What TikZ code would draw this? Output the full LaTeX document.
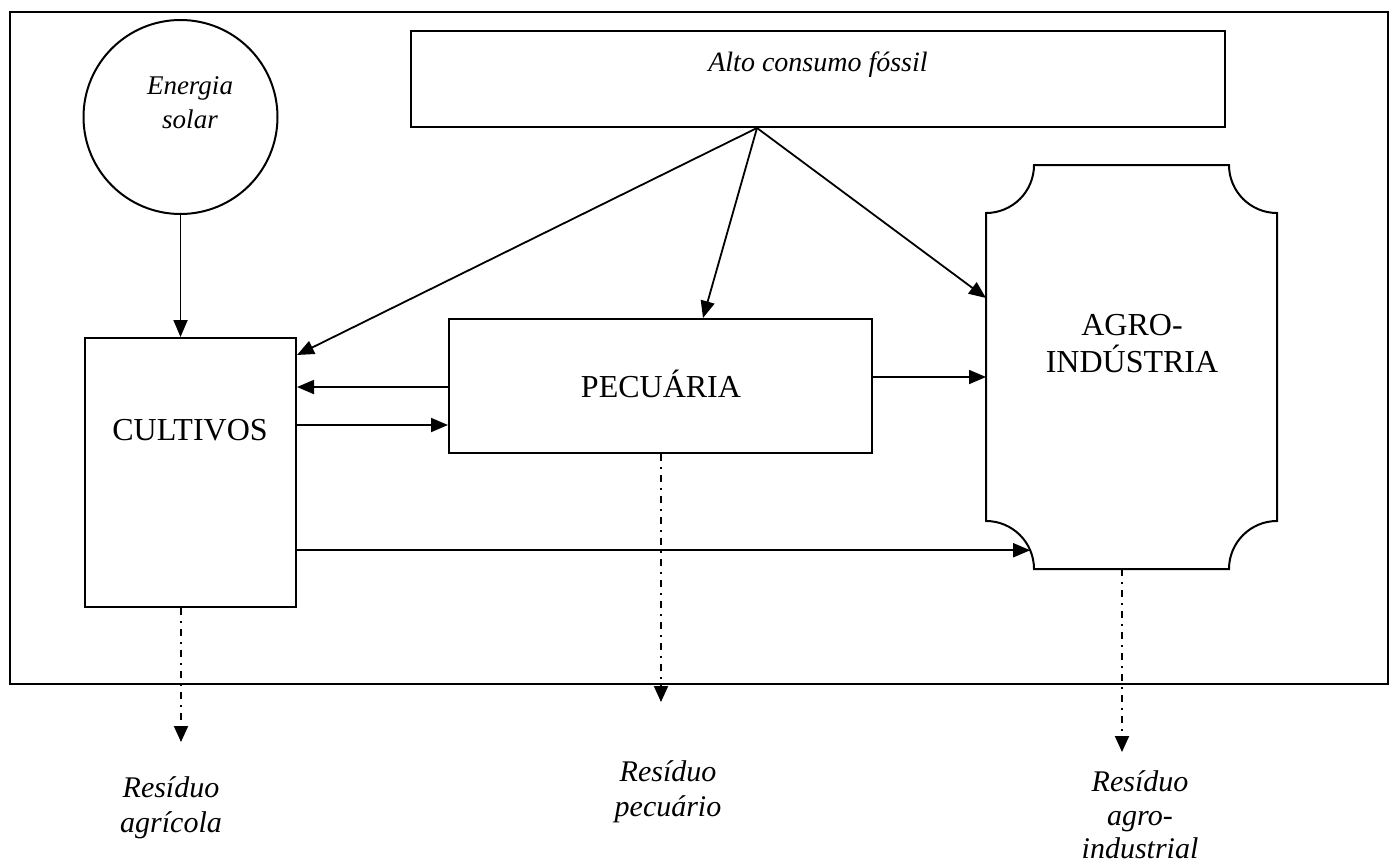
\documentclass[tikz,border=0pt]{standalone}
\usepackage{fontspec}
\setmainfont{Liberation Serif}
\usetikzlibrary{arrows.meta}
\tikzset{
  box/.style={draw, line width=1pt, inner sep=0pt, rectangle},
  arr/.style={line width=0.9pt, -{Triangle[length=8.5pt,width=7pt]}},
  resid/.style={line width=1pt, dash pattern=on 3.5pt off 3pt on 1pt off 3pt, -{Triangle[length=8pt,width=7pt]}},
  roman/.style={font=\fontsize{16}{18.5}\selectfont, align=center, inner sep=0pt},
  ital/.style={font=\fontsize{15}{17.5}\selectfont\itshape, align=center, inner sep=0pt},
  italtight/.style={font=\fontsize{15}{16.75}\selectfont\itshape, align=center, inner sep=0pt},
  italsm/.style={font=\fontsize{13.5}{17}\selectfont\itshape, align=center, inner sep=0pt},
  italmd/.style={font=\fontsize{14}{16.5}\selectfont\itshape, align=center, inner sep=0pt},
}
\begin{document}
\begin{tikzpicture}[x=0.5pt,y=-0.5pt]
\useasboundingbox (0,0) rectangle (1398,867);
% frame
\node[box, minimum width=689pt, minimum height=336pt] (frame) at (699,348) {};
% nodes
\node[box, circle, minimum size=97pt] (sol) at (180.5,117) {};
\node[italsm] (soltxt) at (190,103) {Energia\\solar};
\node[box, minimum width=105.5pt, minimum height=134.5pt] (cult) at (190.5,472.5) {};
\node[roman, anchor=base] (culttxt) at (190,440) {CULTIVOS};
\node[box, minimum width=407pt, minimum height=48pt] (fossil) at (818,79) {};
\node[italmd] (fosstxt) at (818,65) {Alto consumo fóssil};
\node[box, minimum width=211.5pt, minimum height=67pt] (pec) at (660.5,386) {};
\node[roman, anchor=base] (pectxt) at (661,397) {PECUÁRIA};
\node[minimum width=144.5pt, minimum height=201pt, inner sep=0pt, outer sep=0.5pt] (agro) at (1131.5,367) {};
\draw[line width=1pt]
  ([xshift=24pt]agro.north west) -- ([xshift=-24pt]agro.north east)
  arc[start angle=180, end angle=270, radius=24pt]
  -- ([yshift=24pt]agro.south east)
  arc[start angle=90, end angle=180, radius=24pt]
  -- ([xshift=24pt]agro.south west)
  arc[start angle=0, end angle=90, radius=24pt]
  -- ([yshift=-24pt]agro.north west)
  arc[start angle=-90, end angle=0, radius=24pt]
  -- cycle;
\node[roman] (agrotxt) at (1132,344) {AGRO-\\INDÚSTRIA};
% helper coordinates
\coordinate (x757) at (757,0);
\coordinate (x703) at (703,0);
\coordinate (y355) at (0,355);
\coordinate (y298) at (0,298);
\coordinate (y387) at (0,387);
\coordinate (y425) at (0,425);
\coordinate (y377) at (0,377);
\coordinate (agroarc) at ([shift={(23:24pt)}]agro.south west);
\coordinate (fo) at (fossil.south -| x757);
% connectors
\draw[arr] (sol.south) -- (sol.south |- cult.north);
\draw[arr] (fo) -- (cult.east |- y355);
\draw[arr] (fo) -- (pec.north -| x703);
\draw[arr] (fo) -- (agro.west |- y298);
\draw[arr] (pec.west |- y387) -- (cult.east |- y387);
\draw[arr] (cult.east |- y425) -- (pec.west |- y425);
\draw[arr] (pec.east |- y377) -- (agro.west |- y377);
\draw[arr] (cult.east |- agroarc) -- (agroarc);
% residues
\coordinate (r1) at (181,742);
\coordinate (r2) at (661,702);
\coordinate (r3) at (1122,752);
\draw[resid] (cult.south -| r1) -- (r1);
\draw[resid] (pec.south -| r2) -- (r2);
\draw[resid] (agro.south -| r3) -- (r3);
\node[ital] (res1) at (171,808) {Resíduo\\agrícola};
\node[ital] (res2) at (668,792) {Resíduo\\pecuário};
\node[italtight] (res3) at (1140,815) {Resíduo\\agro-\\industrial};
\end{tikzpicture}
\end{document}
